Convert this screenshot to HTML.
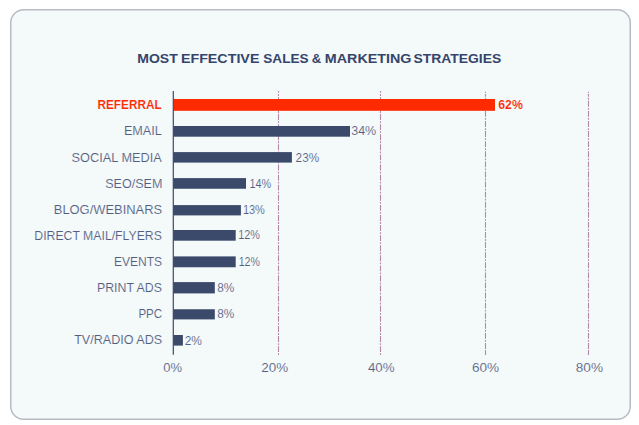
<!DOCTYPE html>
<html lang="en"><head><meta charset="utf-8"><title>Most Effective Sales &amp; Marketing Strategies</title>
<style>
html,body{margin:0;padding:0;background:#fff;}
body{width:639px;height:425px;overflow:hidden;}
svg{display:block;}
text{font-family:"Liberation Sans",sans-serif;}
.t{font-weight:bold;font-size:13.1px;fill:#34446a;}
.l,.v,.x{font-size:12.2px;fill:#525d80;stroke:#f4f9fa;stroke-width:0.12px;}
.r{font-weight:bold;fill:#ff2a00;}
</style></head><body>
<svg width="639" height="425" viewBox="0 0 639 425">
<rect id="box" x="10.75" y="9.75" width="619.5" height="409.5" rx="13" ry="13" fill="#f4f9fa" stroke="#b7bcc4" stroke-width="1.5"/>
<g id="grid" stroke="#b488aa" stroke-width="1.1" fill="none">
<line x1="278.5" y1="91" x2="278.5" y2="355.07" stroke-dasharray="5.9 1.2 1.8 1.19" stroke-dashoffset="7.18"/>
<line x1="278.5" y1="95.9" x2="278.5" y2="97.2" stroke="#f4f9fa" stroke-width="2"/>
<line x1="380.5" y1="91" x2="380.5" y2="355.07" stroke-dasharray="5.9 1.2 1.8 1.19" stroke-dashoffset="7.18"/>
<line x1="380.5" y1="95.9" x2="380.5" y2="97.2" stroke="#f4f9fa" stroke-width="2"/>
<line x1="485.5" y1="91.8" x2="485.5" y2="349.2" stroke-dasharray="5.9 1.2 1.8 1.19" stroke-dashoffset="1.04"/>
<line x1="485.5" y1="92.9" x2="485.5" y2="94.1" stroke="#f4f9fa" stroke-width="2"/>
<line x1="485.5" y1="350" x2="485.5" y2="355.04"/>
<line x1="588.5" y1="91.8" x2="588.5" y2="349.2" stroke-dasharray="5.9 1.2 1.8 1.19" stroke-dashoffset="1.04"/>
<line x1="588.5" y1="92.9" x2="588.5" y2="94.1" stroke="#f4f9fa" stroke-width="2"/>
<line x1="588.5" y1="350" x2="588.5" y2="355.04"/>
</g>
<g id="bars">
<rect x="173.3" y="99" width="321.70" height="11.80" fill="#ff2a00"/>
<rect x="173.3" y="126" width="176.70" height="10.70" fill="#3b4a6b"/>
<rect x="173.3" y="152.1" width="118.60" height="10.50" fill="#3b4a6b"/>
<rect x="173.3" y="178.1" width="72.70" height="10.65" fill="#3b4a6b"/>
<rect x="173.3" y="205.1" width="67.60" height="10.30" fill="#3b4a6b"/>
<rect x="173.3" y="230" width="62.40" height="10.70" fill="#3b4a6b"/>
<rect x="173.3" y="256.4" width="62.40" height="10.85" fill="#3b4a6b"/>
<rect x="173.3" y="282.1" width="41.50" height="11.30" fill="#3b4a6b"/>
<rect x="173.3" y="309.25" width="41.50" height="10.15" fill="#3b4a6b"/>
<rect x="173.3" y="335" width="9.60" height="10.60" fill="#3b4a6b"/>
</g>
<line id="axis" x1="173.3" y1="91.1" x2="173.3" y2="354.75" stroke="#3b4a6b" stroke-width="1.2"/>
<g id="texts">
<text id="t0" class="t" x="137.25" y="63" textLength="40.51" lengthAdjust="spacingAndGlyphs">MOST</text>
<text id="t1" class="t" x="180.90" y="63" textLength="78.52" lengthAdjust="spacingAndGlyphs">EFFECTIVE</text>
<text id="t2" class="t" x="263.26" y="63" textLength="45.37" lengthAdjust="spacingAndGlyphs">SALES</text>
<text id="t3" class="t" x="311.84" y="63" textLength="9.46" lengthAdjust="spacingAndGlyphs">&amp;</text>
<text id="t4" class="t" x="324.87" y="63" textLength="86.60" lengthAdjust="spacingAndGlyphs">MARKETING</text>
<text id="t5" class="t" x="413.42" y="63" textLength="87.80" lengthAdjust="spacingAndGlyphs">STRATEGIES</text>
<text id="l0" class="l r" x="97.46" y="109" textLength="64.19" lengthAdjust="spacingAndGlyphs">REFERRAL</text>
<text id="l1" class="l" x="123.92" y="135" textLength="37.94" lengthAdjust="spacingAndGlyphs">EMAIL</text>
<text id="l2" class="l" x="71.63" y="162" textLength="90.11" lengthAdjust="spacingAndGlyphs">SOCIAL MEDIA</text>
<text id="l3" class="l" x="105.27" y="188" textLength="57.10" lengthAdjust="spacingAndGlyphs">SEO/SEM</text>
<text id="l4" class="l" x="53.79" y="214" textLength="108.32" lengthAdjust="spacingAndGlyphs">BLOG/WEBINARS</text>
<text id="l5" class="l" x="34.32" y="240" textLength="127.55" lengthAdjust="spacingAndGlyphs">DIRECT MAIL/FLYERS</text>
<text id="l6" class="l" x="113.89" y="266" textLength="48.26" lengthAdjust="spacingAndGlyphs">EVENTS</text>
<text id="l7" class="l" x="96.93" y="292" textLength="64.95" lengthAdjust="spacingAndGlyphs">PRINT ADS</text>
<text id="l8" class="l" x="138.39" y="318" textLength="23.74" lengthAdjust="spacingAndGlyphs">PPC</text>
<text id="l9" class="l" x="74.20" y="344" textLength="87.99" lengthAdjust="spacingAndGlyphs">TV/RADIO ADS</text>
<text id="v0" class="v r" x="498.20" y="109" textLength="24.67" lengthAdjust="spacingAndGlyphs">62%</text>
<text id="v1" class="v" x="351.18" y="135" textLength="25.07" lengthAdjust="spacingAndGlyphs">34%</text>
<text id="v2" class="v" x="295.61" y="162" textLength="23.60" lengthAdjust="spacingAndGlyphs">23%</text>
<text id="v3" class="v" x="249.50" y="188" textLength="21.69" lengthAdjust="spacingAndGlyphs">14%</text>
<text id="v4" class="v" x="242.91" y="214" textLength="21.99" lengthAdjust="spacingAndGlyphs">13%</text>
<text id="v5" class="v" x="238.17" y="239" textLength="21.77" lengthAdjust="spacingAndGlyphs">12%</text>
<text id="v6" class="v" x="238.66" y="266" textLength="21.17" lengthAdjust="spacingAndGlyphs">12%</text>
<text id="v7" class="v" x="217.32" y="292" textLength="17.06" lengthAdjust="spacingAndGlyphs">8%</text>
<text id="v8" class="v" x="217.32" y="318" textLength="17.06" lengthAdjust="spacingAndGlyphs">8%</text>
<text id="v9" class="v" x="184.66" y="345" textLength="17.20" lengthAdjust="spacingAndGlyphs">2%</text>
<text id="x0" class="x" x="163.30" y="372" textLength="18.78" lengthAdjust="spacingAndGlyphs">0%</text>
<text id="x1" class="x" x="261.22" y="372" textLength="26.89" lengthAdjust="spacingAndGlyphs">20%</text>
<text id="x2" class="x" x="367.96" y="372" textLength="26.58" lengthAdjust="spacingAndGlyphs">40%</text>
<text id="x3" class="x" x="471.94" y="372" textLength="27.15" lengthAdjust="spacingAndGlyphs">60%</text>
<text id="x4" class="x" x="575.84" y="372" textLength="27.16" lengthAdjust="spacingAndGlyphs">80%</text>
</g>
</svg></body></html>
